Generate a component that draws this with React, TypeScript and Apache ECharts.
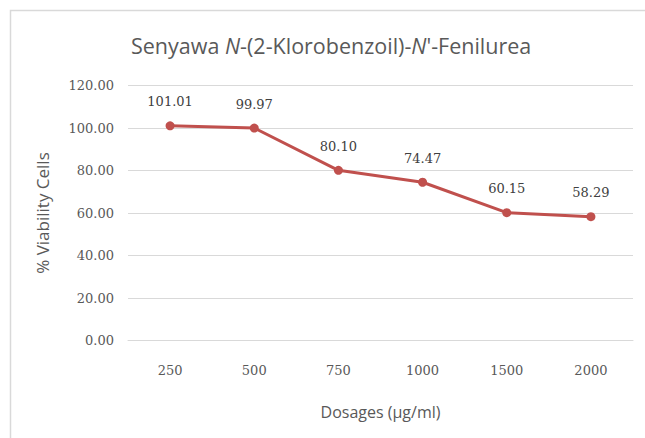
import React, { useEffect, useRef } from "react";
import * as echarts from "echarts";

const categories = ["250", "500", "750", "1000", "1500", "2000"];
const viability = [101.01, 99.97, 80.1, 74.47, 60.15, 58.29];
const yTicks = { min: 0, max: 120, interval: 20 };

export default function App() {
  const ref = useRef<HTMLDivElement>(null);
  useEffect(() => {
    const chart = echarts.init(ref.current!, null, { renderer: "svg" });
    chart.setOption({
      animation: false,
      backgroundColor: "#ffffff",
      graphic: [
        {
          type: "rect",
          shape: { x: 10.5, y: 10.5, width: 660, height: 460 },
          style: { fill: "none", stroke: "#d9d9d9", lineWidth: 1.5 },
          silent: true,
        },
      ],
      title: {
        left: 126,
        top: 29,
        text: "{a|Senyawa }{i|N}{a|-(2-Klorobenzoil)-}{i|N}{a|'-Fenilurea}",
        textStyle: {
          fontWeight: "normal",
          rich: {
            a: { fontFamily: "Open Sans", fontSize: 21.5, color: "#595959", fontWeight: "normal" },
            i: { fontFamily: "Open Sans", fontSize: 21.5, color: "#595959", fontStyle: "italic", fontWeight: "normal" },
          },
        },
      },
      grid: { left: 128, right: 12, top: 85.5, bottom: 97.5 },
      xAxis: {
        type: "category",
        data: categories,
        boundaryGap: true,
        name: "Dosages (µg/ml)",
        nameLocation: "middle",
        nameGap: 63,
        nameTextStyle: { fontFamily: "Open Sans", fontSize: 16, color: "#595959" },
        axisLine: { show: true, lineStyle: { color: "#d9d9d9" } },
        axisTick: { show: false },
        axisLabel: { fontFamily: "DejaVu Serif", fontSize: 13, color: "#595959", margin: 23 },
      },
      yAxis: {
        type: "value",
        min: yTicks.min,
        max: yTicks.max,
        interval: yTicks.interval,
        name: "% Viability Cells",
        nameLocation: "middle",
        nameGap: 77,
        nameRotate: 90,
        nameTextStyle: { fontFamily: "Open Sans", fontSize: 17, color: "#595959" },
        axisLine: { show: false },
        axisTick: { show: false },
        splitLine: { lineStyle: { color: "#d9d9d9", width: 1 } },
        axisLabel: {
          fontFamily: "DejaVu Serif",
          fontSize: 13,
          color: "#595959",
          margin: 14,
          formatter: (v: number) => v.toFixed(2),
        },
      },
      series: [
        {
          type: "line",
          data: viability,
          symbol: "circle",
          symbolSize: 9,
          itemStyle: { color: "#C0504D" },
          lineStyle: { color: "#C0504D", width: 3 },
          label: {
            show: true,
            position: "top",
            distance: 13,
            fontFamily: "DejaVu Serif",
            fontSize: 13,
            color: "#404040",
            formatter: (p: any) => Number(p.value).toFixed(2),
          },
        },
      ],
    });
    return () => chart.dispose();
  }, []);
  return <div ref={ref} style={{ width: 645, height: 438, position: "absolute", left: 0, top: 0 }} />;
}
